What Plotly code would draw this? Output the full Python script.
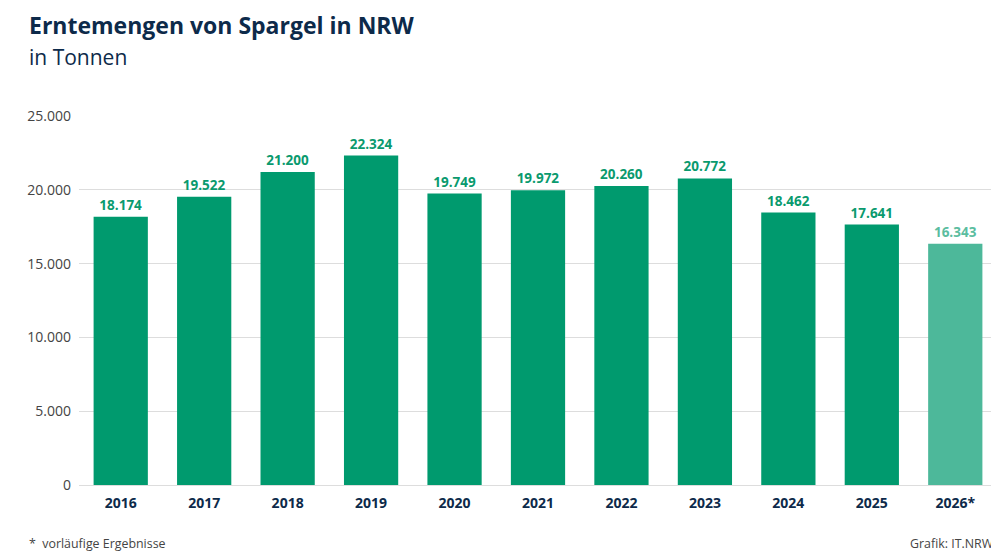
import plotly.graph_objects as go

years = ["2016", "2017", "2018", "2019", "2020", "2021", "2022", "2023", "2024", "2025", "2026*"]
values = [18174, 19522, 21200, 22324, 19749, 19972, 20260, 20772, 18462, 17641, 16343]
y_ticks = [0, 5000, 10000, 15000, 20000, 25000]

dark = "#009a6e"
light = "#4db89a"
colors = [dark] * 10 + [light]
label_colors = ["#0a9a6e"] * 10 + ["#5bbd9f"]
navy = "#0d2a4a"
font = "Open Sans"

# page is shown with an 8px body margin -> figure coords = page coords - 8
OFF = 8
W, H = 999 - OFF, 551 - OFF
l, r, t, b = 79 - OFF, 2, 116 - OFF, 66

fig = go.Figure(go.Bar(
    x=years, y=values,
    marker=dict(color=colors, line=dict(width=0)),
    width=0.65,
    text=values,
    texttemplate="%{y:,.0f}",
    textposition="outside",
    textfont=dict(family=font, size=13.5, color=label_colors, weight="bold"),
    cliponaxis=False,
    hoverinfo="skip",
))

fig.update_layout(
    width=W, height=H,
    margin=dict(l=l, r=r, t=t, b=b),
    paper_bgcolor="white", plot_bgcolor="white",
    separators=",.",
    showlegend=False,
    font=dict(family=font),
    xaxis=dict(
        type="category", range=[-0.5, 10.5],
        tickfont=dict(family=font, size=14, color=navy, weight="bold"),
        showgrid=False, showline=False, ticks="", ticklabelstandoff=8,
    ),
    yaxis=dict(
        range=[0, 25000], tickvals=y_ticks, tickformat=",.0f",
        tickfont=dict(family=font, size=14, color="#444"),
        showgrid=True, gridcolor="#dddddd", gridwidth=1,
        zeroline=True, zerolinecolor="#dddddd", zerolinewidth=1,
        showline=False, ticks="", ticklabelstandoff=7,
    ),
)

pw, ph = W - l - r, H - t - b


def px(x, y):
    return (x - OFF - l) / pw, 1 - (y - OFF - t) / ph


anns = [
    ("<b>Erntemengen von Spargel in NRW</b>", 27, 25, "left", 23, navy),
    ("in Tonnen", 27, 57, "left", 21, navy),
    ("*  vorläufige Ergebnisse", 27, 543, "left", 12.4, "#444"),
    ("Grafik: IT.NRW", 996, 543, "right", 12.4, "#444"),
]
for text, x, y, anchor, size, col in anns:
    ax, ay = px(x, y)
    fig.add_annotation(text=text, x=ax, y=ay, xref="paper", yref="paper",
                       showarrow=False, xanchor=anchor, yanchor="middle",
                       font=dict(family=font, size=size, color=col))

fig.write_html("out.html")
